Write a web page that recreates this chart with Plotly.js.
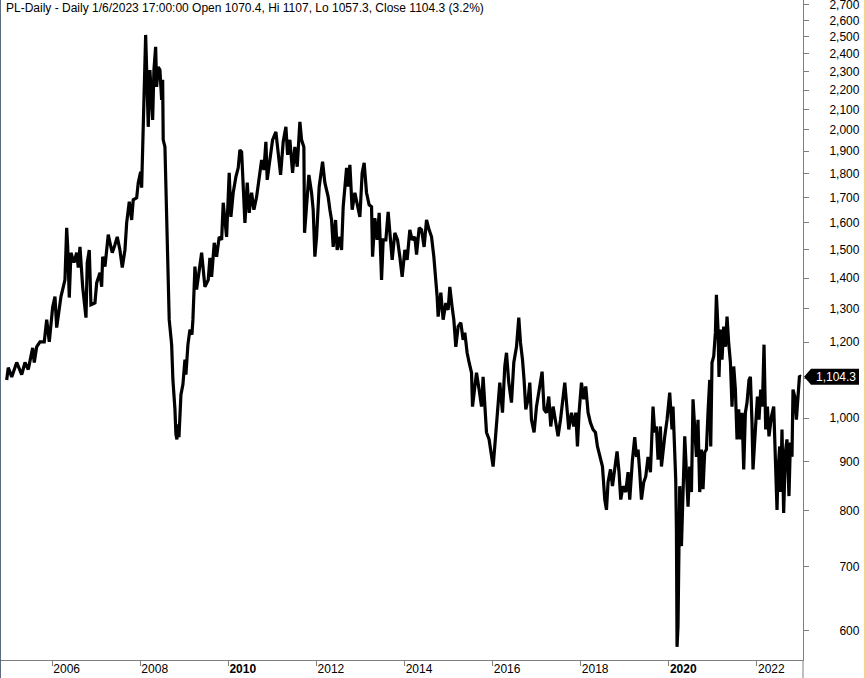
<!DOCTYPE html>
<html><head><meta charset="utf-8">
<script src="https://cdn.plot.ly/plotly-3.0.1.min.js"></script>
<style>html,body{margin:0;padding:0;background:#fff;overflow:hidden}#chart{width:865px;height:678px}</style>
</head><body><div id="chart"></div>
<script>
// time in decimal years, platinum price (USD/oz)
const t = [
2004.965,2005.001,2005.079,2005.192,2005.306,2005.380,2005.455,2005.555,2005.591,2005.646,
2005.721,2005.818,2005.873,2005.932,2006.009,2006.061,2006.100,2006.159,2006.197,2006.250,
2006.288,2006.327,2006.350,2006.386,2006.424,2006.492,2006.554,2006.590,2006.629,2006.690,
2006.742,2006.765,2006.794,2006.840,2006.878,2006.969,2007.008,2007.083,2007.121,2007.144,
2007.196,2007.271,2007.310,2007.362,2007.423,2007.475,2007.536,2007.589,2007.650,2007.689,
2007.748,2007.802,2007.838,2007.916,2007.952,2008.006,2008.029,2008.065,2008.104,2008.120,
2008.156,2008.179,2008.217,2008.256,2008.279,2008.308,2008.347,2008.369,2008.406,2008.444,
2008.483,2008.506,2008.519,2008.558,2008.581,2008.610,2008.633,2008.655,2008.710,2008.739,
2008.785,2008.807,2008.830,2008.853,2008.876,2008.898,2008.921,2008.966,2009.012,2009.034,
2009.080,2009.125,2009.171,2009.193,2009.239,2009.277,
2009.391,2009.466,2009.541,2009.579,2009.618,2009.677,2009.731,2009.790,2009.845,2009.881,
2009.958,2010.017,2010.056,2010.108,2010.169,2010.222,2010.260,2010.299,2010.335,2010.374,
2010.426,2010.471,2010.526,2010.578,2010.639,2010.698,2010.753,2010.805,2010.850,2010.880,
2010.941,2011.002,2011.077,2011.129,2011.184,2011.243,2011.304,2011.343,2011.395,2011.456,
2011.508,2011.561,2011.622,2011.660,2011.712,2011.728,2011.774,2011.826,2011.887,2011.924,
2011.962,2012.001,2012.060,2012.137,2012.189,2012.264,2012.303,2012.341,2012.378,2012.432,
2012.468,2012.530,
2012.568,2012.605,2012.682,2012.718,2012.757,2012.809,2012.870,2012.931,2012.984,2013.036,
2013.081,2013.135,2013.194,2013.249,2013.272,2013.324,2013.376,2013.422,2013.476,2013.513,
2013.574,2013.626,2013.664,2013.717,2013.778,2013.839,2013.891,2013.944,2014.005,2014.057,
2014.118,2014.170,2014.232,2014.271,2014.330,2014.384,2014.443,2014.497,2014.556,2014.611,
2014.663,2014.708,2014.738,2014.761,2014.822,2014.874,2014.935,2014.988,2015.026,2015.078,
2015.117,2015.162,2015.215,2015.276,2015.328,2015.367,2015.419,2015.464,2015.519,2015.541,
2015.594,2015.632,2015.691,2015.746,2015.782,2015.821,2015.859,2015.918,2015.973,2016.009,
2016.047,2016.086,2016.122,2016.161,
2016.222,2016.274,2016.313,2016.365,2016.426,2016.479,2016.540,2016.592,2016.631,2016.676,
2016.712,2016.751,2016.803,2016.842,2016.880,2016.939,2016.994,2017.053,2017.121,2017.166,
2017.221,2017.273,2017.318,2017.371,2017.425,2017.484,2017.539,2017.584,2017.636,2017.675,
2017.727,2017.788,2017.840,2017.886,2017.924,2017.961,2018.015,2018.067,2018.113,2018.165,
2018.219,2018.278,2018.333,2018.378,2018.431,2018.492,2018.544,2018.583,2018.619,2018.674,
2018.719,2018.771,2018.823,2018.868,2018.907,2018.959,2019.021,2019.073,2019.111,2019.173,
2019.225,2019.263,2019.300,2019.338,2019.377,2019.429,2019.475,2019.527,2019.581,2019.640,
2019.679,2019.717,2019.754,2019.808,
2019.831,2019.906,2019.958,2020.019,2020.071,2020.094,2020.133,2020.155,2020.171,2020.185,
2020.207,2020.230,2020.246,2020.285,2020.321,2020.360,2020.398,2020.435,2020.473,2020.512,
2020.548,2020.586,2020.625,2020.661,2020.700,2020.738,2020.775,2020.813,2020.852,2020.888,
2020.927,2020.950,2020.979,2021.018,2021.056,2021.079,2021.116,2021.138,2021.170,2021.206,
2021.245,2021.284,2021.320,2021.358,2021.397,2021.433,2021.472,2021.510,2021.547,2021.585,
2021.624,2021.661,2021.699,2021.737,2021.774,2021.819,2021.851,2021.887,2021.910,2021.964,
2022.010,2022.046,2022.085,2022.123,2022.160,2022.198,2022.237,2022.273,2022.327,2022.380,
2022.418,2022.455,2022.477,2022.516,2022.538,2022.568,2022.606,2022.645,2022.681,2022.727,
2022.759,2022.795,2022.818,2022.857,2022.895,2022.931,2022.965,2022.990
];
const price = [
1096,1129,1104,1143,1110,1143,1124,1184,1143,1187,
1201,1201,1267,1201,1306,1339,1243,1313,1339,1371,
1394,1580,1509,1336,1488,1453,1488,1436,1509,1371,
1288,1273,1453,1498,1313,1319,1384,1418,1371,1474,
1439,1554,1524,1488,1517,1546,1498,1436,1498,1599,
1682,1610,1690,1698,1761,1807,1740,1966,2382,2512,
2200,2014,2309,2164,2048,2309,2441,2217,2326,2309,
2149,2255,1952,1919,1731,1546,1439,1267,1193,1096,
1021,962,950,985,955,1008,1058,1084,1151,1110,
1193,1237,1222,1267,1439,1362,
1488,1371,1394,1470,1404,1524,1474,1546,1535,1678,
1546,1803,1622,1719,1786,1825,1905,1896,1761,1599,
1761,1638,1719,1650,1702,1773,1860,1816,1943,1773,
1874,1952,1990,1896,1794,1943,2014,1883,1952,1803,
1919,1830,2038,1952,1919,1561,1690,1794,1719,1650,
1474,1546,1744,1852,1761,1702,1650,1610,1509,1610,
1498,1546,
1498,1662,1825,1744,1838,1650,1719,1662,1622,1803,
1847,1719,1670,1662,1474,1617,1535,1638,1394,1535,
1535,1642,1572,1463,1561,1535,1474,1404,1498,1463,
1572,1535,1546,1481,1580,1572,1509,1610,1572,1546,
1474,1394,1339,1276,1352,1267,1319,1297,1371,1306,
1267,1187,1246,1258,1207,1228,1170,1143,1115,1028,
1079,1115,1071,1028,1104,1028,966,950,912,890,
934,989,1028,1089,
1013,1132,1170,1089,1038,1143,1187,1273,1198,1151,
1096,1021,1046,1089,996,966,1028,1071,1118,1021,
1013,1053,980,1028,996,957,996,1046,1089,1038,
973,1013,980,1013,934,1013,1089,1046,1079,1013,
989,973,966,934,911,890,822,802,857,884,
849,890,923,878,822,849,837,878,822,905,
955,911,927,878,822,857,869,911,878,1028,
966,980,905,980,
890,957,996,1063,973,1028,934,864,766,577,
606,715,849,735,843,957,878,808,890,837,
1046,973,911,996,837,927,843,921,927,1013,
1096,934,1143,1160,1228,1345,1237,1104,1237,1151,
1246,1187,1276,1198,1143,1028,1132,1071,950,1021,
950,1013,884,1013,1038,1096,1104,989,884,973,
1053,996,1071,1028,1193,973,1028,957,1003,1028,
927,802,878,934,837,973,796,921,950,829,
943,911,1071,1053,996,1063,1107,1104.3
];
const xTickVals = [2006,2008,2010,2012,2014,2016,2018,2020,2022];
const xTickText = ['2006','2008','<b>2010</b>','2012','2014','2016','2018','<b>2020</b>','2022'];
const yTickVals = [600,700,800,900,1000,1100,1200,1300,1400,1500,1600,1700,1800,1900,2000,2100,2200,2300,2400,2500,2600,2700];
const yTickText = yTickVals.map(v => v === 1100 ? '' : (v < 1000 ? '\u00a0\u00a0\u00a0' + v : v.toLocaleString('en-US')));
const lastClose = 1104.3;
const lastLabel = '1,104.3';
const titleText = 'PL-Daily - Daily 1/6/2023 17:00:00 Open 1070.4, Hi 1107, Lo 1057.3, Close 1104.3 (3.2%)';

const FONT = 'Arial, "Liberation Sans", sans-serif';

const trace = {
  type: 'scatter', mode: 'lines', x: t, y: price,
  line: {color: '#000000', width: 3.2}, hoverinfo: 'skip'
};

const layout = {
  width: 865, height: 678,
  margin: {l: 0, r: 62, t: 0, b: 18},
  paper_bgcolor: '#ffffff', plot_bgcolor: '#ffffff',
  showlegend: false,
  font: {family: FONT, size: 12, color: '#000000'},
  xaxis: {
    type: 'linear', range: [2004.813, 2023.045],
    tickvals: xTickVals, ticktext: xTickText,
    ticks: 'outside', ticklen: 5, tickcolor: '#808080', tickwidth: 1,
    ticklabelposition: 'outside right', ticklabelstandoff: -2,
    showline: true, linecolor: '#808080', linewidth: 1,
    showgrid: false, zeroline: false,
    tickfont: {family: FONT, size: 12, color: '#000000'}
  },
  yaxis: {
    type: 'log', side: 'right',
    range: [Math.log10(559), Math.log10(2732)],
    tickvals: yTickVals, ticktext: yTickText,
    ticks: 'outside', ticklen: 5, tickcolor: '#808080', tickwidth: 1,
    ticklabelstandoff: 18, ticklabeloverflow: 'allow',
    showline: true, linecolor: '#808080', linewidth: 1,
    showgrid: false, zeroline: false,
    tickfont: {family: FONT, size: 12, color: '#000000'}
  },
  shapes: [
    {type: 'line', xref: 'paper', yref: 'paper', x0: 1, x1: 1, y0: 0, y1: -0.03, line: {color: '#808080', width: 1}},
    {type: 'line', xref: 'paper', yref: 'paper', x0: 0.0005, x1: 0.0005, y0: -0.03, y1: 1, line: {color: '#4a5a70', width: 1}},
    {type: 'line', xref: 'paper', yref: 'paper', x0: 1.0765, x1: 1.0765, y0: -0.03, y1: 1, line: {color: '#f5d08a', width: 1}},
    {type: 'path', xref: 'paper', yref: 'y', xsizemode: 'pixel', ysizemode: 'pixel',
     xanchor: 1, yanchor: lastClose,
     path: 'M 1 0 L 8 8 L 56 8 L 56 -8 L 8 -8 Z',
     fillcolor: '#000000', line: {width: 0}}
  ],
  annotations: [
    {xref: 'paper', yref: 'paper', x: 0, y: 1, xanchor: 'left', yanchor: 'top', xshift: 4, yshift: 1,
     showarrow: false, text: titleText, font: {family: FONT, size: 12, color: '#000000'}},
    {xref: 'paper', yref: 'y', x: 1, y: Math.log10(lastClose), xanchor: 'left', yanchor: 'middle', xshift: 11,
     showarrow: false, text: lastLabel, font: {family: FONT, size: 12, color: '#ffffff'}}
  ]
};

Plotly.newPlot('chart', [trace], layout, {displayModeBar: false, staticPlot: true});
</script>
</body></html>
